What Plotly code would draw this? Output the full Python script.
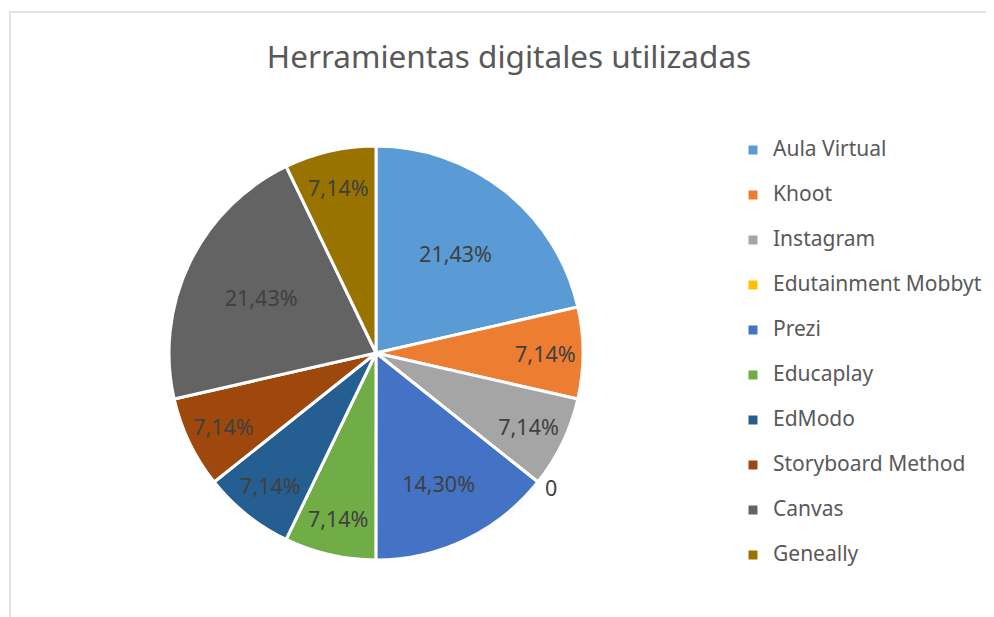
import plotly.graph_objects as go

categories = ["Aula Virtual", "Khoot", "Instagram", "Edutainment Mobbyt", "Prezi",
              "Educaplay", "EdModo", "Storyboard Method", "Canvas", "Geneally"]
values = [21.43, 7.14, 7.14, 0, 14.30, 7.14, 7.14, 7.14, 21.43, 7.14]
colors = ["#5B9BD5", "#ED7D31", "#A5A5A5", "#FFC000", "#4472C4",
          "#70AD47", "#255E91", "#9E480E", "#636363", "#997300"]
title_text = "Herramientas digitales utilizadas"

# page has an 8px body margin; figure sized to fit the window
OFF = 8
FW, FH = 994 - OFF, 617 - OFF
FONT = "Noto Sans"

def px_x(p):
    return (p - OFF) / FW

def px_y(p):
    return 1 - (p - OFF) / FH

def fmt(v):
    if v == 0:
        return "0"
    return f"{v:.2f}".replace(".", ",") + "%"

texts = [fmt(v) for v in values]
positions = ["outside" if v == 0 else "inside" for v in values]
legend_labels = [f"<span style='font-size:21px'>{c}</span><br> " for c in categories]

fig = go.Figure(go.Pie(
    labels=legend_labels,
    values=values,
    text=texts,
    textinfo="text",
    textposition=positions,
    insidetextorientation="horizontal",
    sort=False,
    direction="clockwise",
    rotation=0,
    marker=dict(colors=colors, line=dict(color="white", width=3)),
    textfont=dict(family=FONT, size=21.5, color="#404040"),
    outsidetextfont=dict(family=FONT, size=21.5, color="#404040"),
    domain=dict(x=[px_x(169), px_x(583)], y=[px_y(560), px_y(146)]),
    hoverinfo="skip",
))

fig.update_layout(
    width=FW, height=FH,
    margin=dict(l=0, r=0, t=0, b=0),
    paper_bgcolor="white",
    plot_bgcolor="white",
    font=dict(family=FONT, color="#595959"),
    title=dict(text=title_text, x=px_x(509), xanchor="center",
               y=px_y(57), yanchor="middle",
               font=dict(family=FONT, size=31.5, color="#595959")),
    legend=dict(
        x=px_x(733), xanchor="left",
        y=px_y(133), yanchor="top",
        valign="top",
        font=dict(family=FONT, size=16.15, color="#595959"),
        bgcolor="rgba(0,0,0,0)",
        itemwidth=30,
    ),
    shapes=[dict(type="rect", xref="paper", yref="paper",
                 x0=px_x(10), x1=1.05, y0=-0.05, y1=px_y(12),
                 line=dict(color="#d9d9d9", width=1.5))],
)

fig.write_html("out.html")
